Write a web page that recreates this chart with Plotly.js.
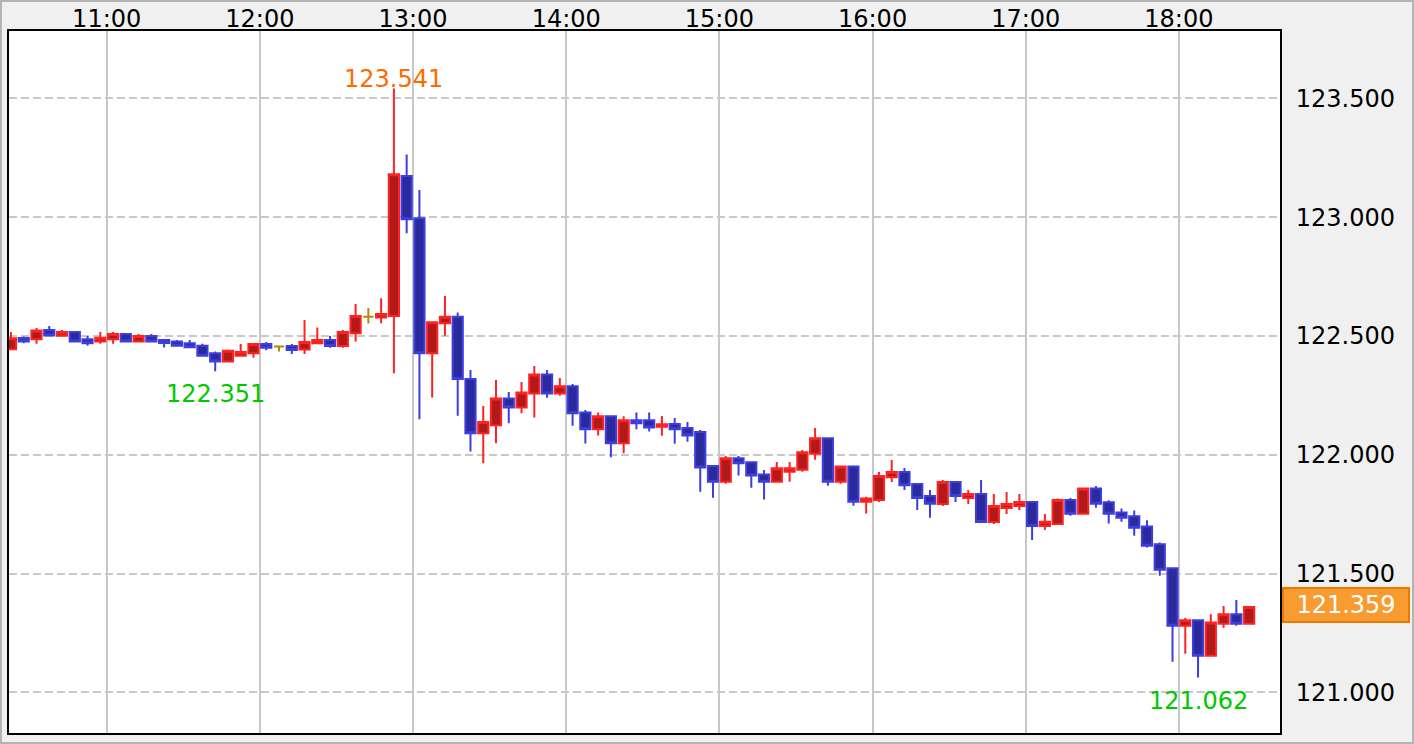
<!DOCTYPE html>
<html>
<head>
<meta charset="utf-8">
<script src="https://cdn.plot.ly/plotly-3.0.1.min.js"></script>
<style>
html,body{margin:0;padding:0;background:#f0f0f0;}
#wrap{position:relative;width:1414px;height:744px;}
#chart{position:absolute;left:0;top:0;width:1414px;height:744px;}
#frame{position:absolute;left:0;top:0;width:1410px;height:740px;border:2px solid #b4b4b4;pointer-events:none;}
</style>
</head>
<body>
<div id="wrap"><div id="chart"></div><div id="frame"></div></div>
<script>
// 5-minute candles (start times)
const times = [
 '10:20','10:25','10:30','10:35','10:40','10:45','10:50','10:55',
 '11:00','11:05','11:10','11:15','11:20','11:25','11:30','11:35','11:40','11:45','11:50','11:55',
 '12:00','12:05','12:10','12:15','12:20','12:25','12:30','12:35','12:40','12:45','12:50','12:55',
 '13:00','13:05','13:10','13:15','13:20','13:25','13:30','13:35','13:40','13:45','13:50','13:55',
 '14:00','14:05','14:10','14:15','14:20','14:25','14:30','14:35','14:40','14:45','14:50','14:55',
 '15:00','15:05','15:10','15:15','15:20','15:25','15:30','15:35','15:40','15:45','15:50','15:55',
 '16:00','16:05','16:10','16:15','16:20','16:25','16:30','16:35','16:40','16:45','16:50','16:55',
 '17:00','17:05','17:10','17:15','17:20','17:25','17:30','17:35','17:40','17:45','17:50','17:55',
 '18:00','18:05','18:10','18:15','18:20','18:25'
];
const openV = [
 122.444,122.491,122.486,122.525,122.501,122.516,122.486,122.476,
 122.486,122.508,122.476,122.500,122.483,122.476,122.469,122.459,122.427,122.392,122.417,122.427,
 122.466,122.455,122.457,122.443,122.469,122.483,122.457,122.511,122.581,122.577,122.584,123.173,
 122.995,122.427,122.553,122.581,122.319,122.090,122.124,122.237,122.199,122.258,122.338,122.258,
 122.288,122.178,122.107,122.162,122.048,122.145,122.145,122.118,122.129,122.112,122.096,121.952,
 121.886,121.985,121.968,121.917,121.886,121.928,121.937,122.004,122.069,121.886,121.950,121.802,
 121.809,121.905,121.927,121.877,121.826,121.793,121.885,121.818,121.835,121.717,121.776,121.784,
 121.801,121.700,121.708,121.809,121.752,121.858,121.800,121.757,121.741,121.698,121.623,121.522,
 121.280,121.303,121.154,121.289,121.328,121.289
];
const highV = [
 122.516,122.497,122.533,122.542,122.525,122.516,122.500,122.516,
 122.516,122.508,122.508,122.508,122.483,122.483,122.483,122.467,122.434,122.443,122.466,122.466,
 122.474,122.455,122.466,122.567,122.535,122.500,122.525,122.634,122.617,122.658,123.541,123.264,
 123.114,122.557,122.668,122.599,122.357,122.205,122.314,122.264,122.306,122.373,122.357,122.323,
 122.298,122.188,122.178,122.162,122.162,122.178,122.178,122.163,122.155,122.138,122.104,121.952,
 121.995,121.995,121.968,121.936,121.969,121.969,122.020,122.112,122.069,121.950,121.950,121.823,
 121.927,121.978,121.944,121.877,121.851,121.894,121.885,121.851,121.894,121.835,121.843,121.835,
 121.801,121.750,121.816,121.818,121.858,121.868,121.808,121.774,121.765,121.724,121.631,121.522,
 121.314,121.303,121.329,121.363,121.388,121.359
];
const lowV = [
 122.444,122.469,122.467,122.502,122.501,122.476,122.459,122.467,
 122.467,122.476,122.476,122.476,122.451,122.459,122.452,122.417,122.351,122.392,122.417,122.408,
 122.440,122.434,122.424,122.424,122.469,122.450,122.450,122.476,122.552,122.553,122.343,122.932,
 122.149,122.241,122.501,122.164,122.013,121.964,122.048,122.132,122.174,122.157,122.240,122.248,
 122.122,122.047,122.081,121.989,122.006,122.107,122.098,122.080,122.046,122.054,121.844,121.819,
 121.878,121.912,121.861,121.811,121.886,121.886,121.928,121.979,121.869,121.878,121.785,121.753,
 121.801,121.885,121.851,121.767,121.735,121.784,121.801,121.793,121.717,121.708,121.750,121.767,
 121.641,121.683,121.708,121.743,121.752,121.777,121.710,121.718,121.659,121.609,121.491,121.129,
 121.162,121.062,121.154,121.272,121.280,121.289
];
const closeV = [
 122.490,122.476,122.523,122.502,122.516,122.476,122.469,122.492,
 122.508,122.476,122.500,122.476,122.470,122.459,122.452,122.417,122.392,122.438,122.432,122.466,
 122.450,122.455,122.441,122.474,122.483,122.457,122.516,122.584,122.581,122.592,123.180,122.991,
 122.427,122.557,122.581,122.319,122.090,122.138,122.237,122.199,122.262,122.338,122.258,122.288,
 122.174,122.107,122.162,122.048,122.145,122.132,122.115,122.128,122.107,122.081,121.946,121.886,
 121.985,121.964,121.912,121.886,121.943,121.943,122.010,122.069,121.886,121.950,121.802,121.816,
 121.910,121.927,121.871,121.818,121.794,121.885,121.826,121.835,121.717,121.784,121.793,121.801,
 121.700,121.718,121.809,121.752,121.858,121.794,121.752,121.735,121.693,121.617,121.516,121.280,
 121.303,121.154,121.294,121.328,121.289,121.359
];
const yTickVals = [121.0, 121.5, 122.0, 122.5, 123.0, 123.5];
const xTickLabels = ['11:00','12:00','13:00','14:00','15:00','16:00','17:00','18:00'];
const highLabel = {time:'12:50', value:123.541};
const lowLabels = [{time:'11:40', value:122.351}, {time:'18:05', value:121.062}];
const lastPrice = 121.359;

const DAY = '2024-01-01 ';
function pad(n){return (n<10?'0':'')+n;}
// place each candle at the middle of its 5-minute interval
function mid(t){
  const [h,m] = t.split(':').map(Number);
  const s = (h*60+m)*60 + 150;
  return DAY + pad(Math.floor(s/3600)) + ':' + pad(Math.floor(s%3600/60)) + ':' + pad(s%60);
}
const X = times.map(mid);

const idxMain = [], idxDoji = [];
times.forEach((t,i)=>{ (openV[i]===closeV[i] ? idxDoji : idxMain).push(i); });
const pick = (arr, idx) => idx.map(i=>arr[i]);

const RED_LINE='#ff2222', RED_FILL='#b21a1a', BLUE_LINE='#3e3ede', BLUE_FILL='#2a2a9c', GOLD='#b08a00';

const traces = [
 {type:'candlestick', x:pick(X,idxMain), open:pick(openV,idxMain), high:pick(highV,idxMain),
  low:pick(lowV,idxMain), close:pick(closeV,idxMain), hoverinfo:'skip',
  increasing:{line:{color:RED_LINE,width:2}, fillcolor:RED_FILL},
  decreasing:{line:{color:BLUE_LINE,width:2}, fillcolor:BLUE_FILL}, showlegend:false},
 {type:'candlestick', x:pick(X,idxDoji), open:pick(openV,idxDoji), high:pick(highV,idxDoji),
  low:pick(lowV,idxDoji), close:pick(closeV,idxDoji), hoverinfo:'skip',
  increasing:{line:{color:GOLD,width:2}, fillcolor:GOLD},
  decreasing:{line:{color:GOLD,width:2}, fillcolor:GOLD}, showlegend:false}
];

const FONT = 'DejaVu Sans, sans-serif';
const annotations = [
 {x:mid(highLabel.time), y:highLabel.value, text:highLabel.value.toFixed(3), showarrow:false,
  xanchor:'center', yanchor:'bottom', yshift:-6, font:{family:FONT,size:24,color:'#ff6a00'}},
 ...lowLabels.map(l=>({x:mid(l.time), y:l.value, text:l.value.toFixed(3), showarrow:false,
  xanchor:'center', yanchor:'top', yshift:-7, font:{family:FONT,size:24,color:'#00c800'}})),
 {xref:'paper', x:1, xanchor:'left', xshift:2, y:lastPrice, yanchor:'middle', yshift:2,
  text:lastPrice.toFixed(3), showarrow:false, width:124, height:32, align:'center',
  bgcolor:'#f89b30', bordercolor:'#e87a00', borderwidth:2, borderpad:0,
  font:{family:FONT,size:24,color:'#ffffff'}}
];

const layout = {
  width:1414, height:744,
  margin:{l:9, r:134, t:31, b:11, pad:0},
  paper_bgcolor:'#f0f0f0', plot_bgcolor:'#ffffff',
  boxgap:0.2, boxgroupgap:0,
  showlegend:false,
  font:{family:FONT, size:24, color:'#000000'},
  xaxis:{type:'date', side:'top', range:[DAY+'10:21:44', DAY+'18:39:36'],
    tickvals:xTickLabels.map(t=>DAY+t+':00'), ticktext:xTickLabels,
    ticks:'', ticklabelstandoff:-8, showgrid:true, gridcolor:'#c8c8c8', gridwidth:2,
    showline:true, linecolor:'#000000', linewidth:2, mirror:true,
    rangeslider:{visible:false}, zeroline:false, fixedrange:true,
    tickfont:{family:FONT,size:24,color:'#000000'}},
  yaxis:{side:'right', range:[120.8287, 123.7833], tickvals:yTickVals,
    ticktext:yTickVals.map(v=>v.toFixed(3)), ticks:'', ticklabelstandoff:9,
    showgrid:true, gridcolor:'#c8c8c8', gridwidth:2, griddash:'8px,4px',
    showline:true, linecolor:'#000000', linewidth:2, mirror:true, zeroline:false,
    fixedrange:true, tickfont:{family:FONT,size:24,color:'#000000'}},
  annotations: annotations
};

Plotly.newPlot('chart', traces, layout, {displayModeBar:false, staticPlot:true});
</script>
</body>
</html>
